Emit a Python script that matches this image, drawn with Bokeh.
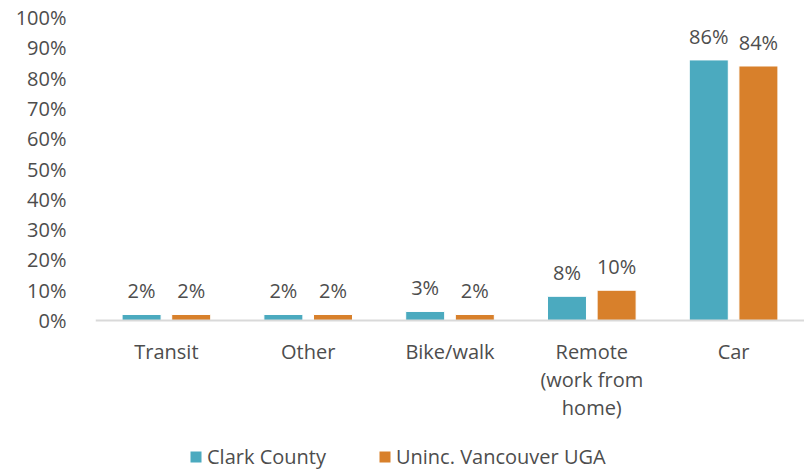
from bokeh.plotting import figure
from bokeh.models import (ColumnDataSource, FactorRange, Range1d, FixedTicker,
                          LabelSet, Legend, LegendItem, Span)
from bokeh.core.properties import value
from bokeh.transform import dodge
from bokeh.embed import file_html
from bokeh.resources import INLINE

categories = ["Transit", "Other", "Bike/walk", "Remote", "Car"]
# category label lines (each line centred under its category)
label_line1 = ["Transit", "Other", "Bike/walk", "Remote", "Car"]
label_line2 = ["", "", "", "(work from", ""]
label_line3 = ["", "", "", "home)", ""]
clark_county = [2, 2, 3, 8, 86]
uninc_vancouver = [2, 2, 2, 10, 84]
series_names = ["Clark County", "Uninc. Vancouver UGA"]
y_ticks = [0, 10, 20, 30, 40, 50, 60, 70, 80, 90, 100]

TEAL = "#4BAABF"
ORANGE = "#D8802B"
TEXT = "#4D4D4D"
FONT = "Open Sans"
FS = "20px"

src = ColumnDataSource(dict(
    cat=categories,
    l1=label_line1,
    l2=label_line2,
    l3=label_line3,
    zero=[0] * len(categories),
    a=clark_county,
    b=uninc_vancouver,
    la=[f"{v}%" for v in clark_county],
    lb=[f"{v}%" for v in uninc_vancouver],
))

# the frame extends below 0 to leave room for category labels and legend
p = figure(width=804, height=474, x_range=FactorRange(*categories, range_padding=0),
           y_range=Range1d(-50.8, 100), output_backend="svg", toolbar_location=None,
           min_border_left=95, min_border_top=17, min_border_right=0,
           min_border_bottom=0)
p.outline_line_color = None
p.grid.visible = False
p.xaxis.visible = False

p.add_layout(Span(location=0, dimension="width", line_color="#D9D9D9", line_width=2))

w = 0.275
r1 = p.vbar(x=dodge("cat", -0.175, range=p.x_range), top="a", width=w, source=src,
            fill_color=TEAL, line_color="white", line_width=1)
r2 = p.vbar(x=dodge("cat", 0.175, range=p.x_range), top="b", width=w, source=src,
            fill_color=ORANGE, line_color="white", line_width=1)

for col, off, top in (("la", -0.175, "a"), ("lb", 0.175, "b")):
    p.add_layout(LabelSet(x=dodge("cat", off, range=p.x_range), y=top, text=col,
                          source=src, text_align="center", text_baseline="bottom",
                          y_offset=10, text_font=value(FONT), text_font_size=value(FS),
                          text_color=TEXT))

for col, yoff in (("l1", -17), ("l2", -45), ("l3", -73)):
    p.add_layout(LabelSet(x="cat", y="zero", text=col, source=src,
                          text_align="center", text_baseline="top", y_offset=yoff,
                          text_font=value(FONT), text_font_size=value(FS),
                          text_color=TEXT))

p.yaxis.ticker = FixedTicker(ticks=y_ticks)
p.yaxis.major_label_overrides = {t: f"{t}%" for t in y_ticks}
p.yaxis.axis_line_color = None
p.yaxis.major_tick_line_color = None
p.yaxis.minor_tick_line_color = None
p.yaxis.major_label_text_font = FONT
p.yaxis.major_label_text_font_size = FS
p.yaxis.major_label_text_color = TEXT
p.yaxis.major_label_standoff = 23

legend = Legend(items=[LegendItem(label=series_names[0], renderers=[r1]),
                       LegendItem(label=series_names[1], renderers=[r2])],
                orientation="horizontal", location=(93, 4),
                label_text_font=FONT, label_text_font_size=FS,
                label_text_color=TEXT, glyph_width=15, glyph_height=15,
                label_standoff=4, spacing=51, border_line_color=None,
                background_fill_alpha=0, padding=4, margin=0)
p.add_layout(legend, "center")

open("out.html", "w").write(file_html(p, INLINE))
